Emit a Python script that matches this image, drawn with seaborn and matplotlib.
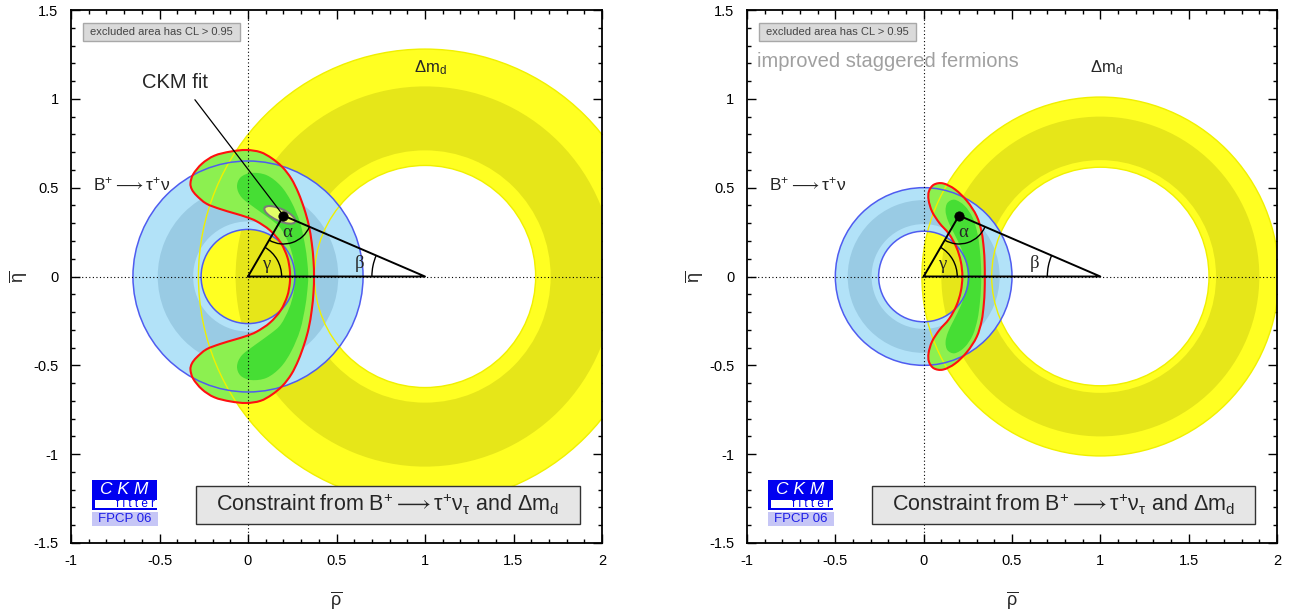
import numpy as np
import matplotlib
matplotlib.use("Agg")
import matplotlib.pyplot as plt
import seaborn as sns
from matplotlib.patches import Wedge, Circle, Arc, Ellipse, Rectangle, PathPatch
from matplotlib.path import Path
from matplotlib.ticker import FixedLocator, FixedFormatter, MultipleLocator

# ------------------------------------------------------------------ data
x_ticks = [-1, -0.5, 0, 0.5, 1, 1.5, 2]
x_tick_labels = ["-1", "-0.5", "0", "0.5", "1", "1.5", "2"]
y_ticks = [-1.5, -1, -0.5, 0, 0.5, 1, 1.5]
y_tick_labels = ["-1.5", "-1", "-0.5", "0", "0.5", "1", "1.5"]

apex = (0.200, 0.343)                 # CKM fit point (rho, eta)
dmd_center = (1.0, 0.0)
btau_center = (0.0, 0.0)
# ring radii: inner edge, dark band inner, dark band outer, outer edge
dmd_radii_left = [0.625, 0.71, 1.07, 1.28]
dmd_radii_right = [0.615, 0.655, 0.90, 1.01]
btau_radii_left = [0.265, 0.31, 0.51, 0.65]
btau_radii_right = [0.255, 0.295, 0.43, 0.50]

# combined constraint, upper half (eta >= 0)
red_left_rho = [0.237, 0.236, 0.222, 0.185, 0.124, 0.050, -0.010, -0.075, -0.158, -0.235,
                -0.290, -0.317, -0.325, -0.310, -0.260, -0.190, -0.100, -0.010, 0.070, 0.135,
                0.195, 0.245, 0.285, 0.318, 0.343, 0.360, 0.370, 0.373]
red_left_eta = [0.000, 0.040, 0.110, 0.190, 0.260, 0.310, 0.335, 0.355, 0.380, 0.410,
                0.455, 0.490, 0.525, 0.575, 0.635, 0.680, 0.703, 0.712, 0.700, 0.665,
                0.615, 0.550, 0.470, 0.380, 0.290, 0.190, 0.090, 0.000]
dark_left_rho = [0.265, 0.258, 0.232, 0.185, 0.130, 0.040, -0.036, -0.062, -0.042, 0.020,
                 0.106, 0.185, 0.245, 0.295, 0.325, 0.338, 0.340]
dark_left_eta = [0.000, 0.090, 0.180, 0.270, 0.320, 0.385, 0.445, 0.505, 0.558, 0.583,
                 0.570, 0.510, 0.420, 0.300, 0.160, 0.050, 0.000]
red_right_rho = [0.219, 0.210, 0.185, 0.143, 0.090, 0.048, 0.028, 0.030, 0.058, 0.110,
                 0.178, 0.245, 0.300, 0.328, 0.340, 0.345, 0.346]
red_right_eta = [0.000, 0.085, 0.165, 0.240, 0.300, 0.365, 0.430, 0.480, 0.517, 0.524,
                 0.490, 0.425, 0.340, 0.250, 0.160, 0.080, 0.000]
dark_right_rho = [0.248, 0.238, 0.212, 0.168, 0.137, 0.124, 0.135, 0.176, 0.232, 0.278,
                  0.305, 0.318, 0.324, 0.326]
dark_right_eta = [0.000, 0.080, 0.160, 0.250, 0.315, 0.370, 0.415, 0.432, 0.398, 0.330,
                  0.240, 0.150, 0.070, 0.000]

fit_ellipse = dict(center=(0.180, 0.347), width=0.19, height=0.068, angle=-24)

# ------------------------------------------------------------------ style
sns.set_style("ticks")
plt.rcParams["font.family"] = ["Liberation Sans", "DejaVu Sans"]
plt.rcParams["mathtext.fontset"] = "custom"
plt.rcParams["mathtext.rm"] = "Liberation Sans"
plt.rcParams["mathtext.it"] = "Liberation Sans:italic"
plt.rcParams["mathtext.bf"] = "Liberation Sans:bold"
plt.rcParams["mathtext.default"] = "regular"

C_YEL = "#FFFF22"
C_YEL_D = "#E6E619"
C_BLU = "#B2E2F8"
C_BLU_D = "#99CBE4"
C_BLU_LINE = "#4F5CF0"
C_GRN = "#8CF050"
C_GRN_D = "#46DE34"
C_RED = "#FF1010"


def mirror(rho, eta):
    r = list(rho) + list(rho[-2:0:-1])
    e = list(eta) + [-v for v in eta[-2:0:-1]]
    return np.array(r), np.array(e)


def smooth_closed_path(x, y):
    pts = np.column_stack([x, y])
    n = len(pts)
    verts = [pts[0]]
    codes = [Path.MOVETO]
    for i in range(n):
        p0, p1, p2, p3 = pts[i - 1], pts[i], pts[(i + 1) % n], pts[(i + 2) % n]
        c1 = p1 + (p2 - p0) / 6.0
        c2 = p2 - (p3 - p1) / 6.0
        verts += [c1, c2, p2]
        codes += [Path.CURVE4] * 3
    return Path(verts, codes)


def ring(ax, center, r_in, r_out, color, z):
    ax.add_patch(Wedge(center, r_out, 0, 360, width=r_out - r_in, facecolor=color,
                       edgecolor="none", zorder=z))


def panel(ax, dmd_r, btau_r, red, dark, show_fit, extra_text=None):
    # Delta m_d rings
    ring(ax, dmd_center, dmd_r[0], dmd_r[3], C_YEL, 1)
    ring(ax, dmd_center, dmd_r[1], dmd_r[2], C_YEL_D, 1.1)
    # B -> tau nu rings
    ring(ax, btau_center, btau_r[0], btau_r[3], C_BLU, 2)
    ring(ax, btau_center, btau_r[1], btau_r[2], C_BLU_D, 2.1)
    # combined constraint
    rx, ry = mirror(*red)
    dx, dy = mirror(*dark)
    ax.add_patch(PathPatch(smooth_closed_path(rx, ry), facecolor=C_GRN, edgecolor="none", zorder=3))
    ax.add_patch(PathPatch(smooth_closed_path(dx, dy), facecolor=C_GRN_D, edgecolor="none", zorder=3.1))
    # outlines
    for r in (dmd_r[0], dmd_r[3]):
        ax.add_patch(Circle(dmd_center, r, fill=False, edgecolor="#F0F000", lw=1.0, zorder=4))
    for r in (btau_r[0], btau_r[3]):
        ax.add_patch(Circle(btau_center, r, fill=False, edgecolor=C_BLU_LINE, lw=1.1, zorder=4.1))
    ax.add_patch(PathPatch(smooth_closed_path(rx, ry), facecolor="none", edgecolor=C_RED, lw=1.5, zorder=4.2))
    if show_fit:
        ax.add_patch(Ellipse(fit_ellipse["center"], fit_ellipse["width"], fit_ellipse["height"],
                             angle=fit_ellipse["angle"], facecolor="#E2FF66", edgecolor="#7A7A7A",
                             lw=1.5, zorder=4.3))
    # dotted axes
    ax.axhline(0, color="black", lw=0.8, ls=(0, (1, 2.2)), zorder=5)
    ax.axvline(0, color="black", lw=0.8, ls=(0, (1, 2.2)), zorder=5)
    # unitarity triangle
    tri_rho = [0.0, apex[0], 1.0, 0.0]
    tri_eta = [0.0, apex[1], 0.0, 0.0]
    sns.lineplot(x=tri_rho, y=tri_eta, sort=False, estimator=None, color="black", lw=1.4,
                 ax=ax, zorder=6)
    sns.scatterplot(x=[apex[0]], y=[apex[1]], s=45, color="black", edgecolor="black", ax=ax, zorder=7)
    ang_apex = np.degrees(np.arctan2(apex[1], apex[0]))
    ang_beta = np.degrees(np.arctan2(apex[1], 1.0 - apex[0]))
    ax.add_patch(Arc((0, 0), 0.38, 0.38, theta1=0, theta2=ang_apex, lw=1.0,
                     edgecolor="black", zorder=6))
    ax.add_patch(Arc(apex, 0.32, 0.32, theta1=180 + ang_apex, theta2=360 - ang_beta, lw=1.0,
                     edgecolor="black", zorder=6))
    ax.add_patch(Arc((1, 0), 0.60, 0.60, theta1=180 - ang_beta, theta2=180, lw=1.0,
                     edgecolor="black", zorder=6))
    gfont = dict(family=["Liberation Serif", "DejaVu Serif"], fontsize=13.5, ha="center", va="center", zorder=8)
    ax.text(0.105, 0.066, "γ", **gfont)
    ax.text(0.222, 0.248, "α", **gfont)
    ax.text(0.630, 0.072, "β", **gfont)

    # labels
    ax.text(-0.878, 0.52, r"B$^{+}\longrightarrow\tau^{+}\nu$", fontsize=12.5, ha="left", va="center", zorder=8)
    ax.text(0.94, 1.175, r"$\Delta$m$_{\rm d}$", fontsize=12, ha="left", va="center", zorder=8)

    # excluded area box
    ax.add_patch(Rectangle((0.0226, 0.942), 0.296, 0.034, transform=ax.transAxes, facecolor="#DADADA",
                           edgecolor="#A8A8A8", lw=1.0, zorder=8))
    ax.text(0.170, 0.959, "excluded area has CL > 0.95", transform=ax.transAxes, fontsize=8,
            color="#444444", ha="center", va="center", zorder=9)
    # title box
    ax.add_patch(Rectangle((0.235, 0.036), 0.724, 0.071, transform=ax.transAxes, facecolor="#E6E6E6",
                           edgecolor="#333333", lw=1.0, zorder=8))
    ax.text(0.597, 0.0715, r"Constraint from B$^{+}\longrightarrow\tau^{+}\nu_{\tau}$ and $\Delta$m$_{\rm d}$",
            transform=ax.transAxes, fontsize=15.5, ha="center", va="center", zorder=9)
    # CKMfitter logo
    ax.add_patch(Rectangle((0.0395, 0.0807), 0.1225, 0.0373, transform=ax.transAxes,
                           facecolor="#0000F0", edgecolor="none", zorder=8))
    ax.text(0.1005, 0.0995, "C K M", transform=ax.transAxes, fontsize=12.5, style="italic",
            color="white", ha="center", va="center", zorder=9)
    ax.add_patch(Rectangle((0.0395, 0.0619), 0.1225, 0.0188, transform=ax.transAxes,
                           facecolor="white", edgecolor="none", zorder=8))
    ax.add_patch(Rectangle((0.0395, 0.0619), 0.006, 0.0188, transform=ax.transAxes,
                           facecolor="#0000F0", edgecolor="none", zorder=8.5))
    ax.add_patch(Rectangle((0.0395, 0.0619), 0.1225, 0.0035, transform=ax.transAxes,
                           facecolor="#0000F0", edgecolor="none", zorder=8.5))
    ax.text(0.159, 0.0728, "f i t t e r", transform=ax.transAxes, fontsize=8.5, color="#0000F0",
            ha="right", va="center", zorder=9)
    ax.add_patch(Rectangle((0.0395, 0.0319), 0.1245, 0.026, transform=ax.transAxes,
                           facecolor="#C6C6F6", edgecolor="none", zorder=8))
    ax.text(0.1005, 0.045, "FPCP 06", transform=ax.transAxes, fontsize=9.5, color="#1E1EE6",
            ha="center", va="center", zorder=9)

    if show_fit:
        ax.plot([-0.30, apex[0]], [0.995, apex[1]], color="black", lw=0.9, zorder=6)
        ax.text(-0.41, 1.09, "CKM fit", fontsize=14.5, ha="center", va="center", zorder=8)
    if extra_text:
        ax.text(-0.945, 1.21, extra_text, fontsize=14.5, color="#A0A0A0", ha="left", va="center", zorder=8)

    # axes
    ax.set_xlim(-1, 2)
    ax.set_ylim(-1.5, 1.5)
    ax.xaxis.set_major_locator(FixedLocator(x_ticks))
    ax.xaxis.set_major_formatter(FixedFormatter(x_tick_labels))
    ax.yaxis.set_major_locator(FixedLocator(y_ticks))
    ax.yaxis.set_major_formatter(FixedFormatter(y_tick_labels))
    ax.xaxis.set_minor_locator(MultipleLocator(0.1))
    ax.yaxis.set_minor_locator(MultipleLocator(0.1))
    ax.tick_params(which="both", direction="in", top=True, right=True, width=1.0, colors="black",
                   labelsize=10.5)
    ax.tick_params(which="major", length=6.5)
    ax.tick_params(which="minor", length=3.2)
    ax.tick_params(axis="y", pad=9)
    ax.tick_params(axis="x", pad=8)
    for s in ax.spines.values():
        s.set_visible(True)
        s.set_linewidth(1.3)
        s.set_color("black")
        s.set_zorder(10)
    ax.set_xlabel("")
    ax.set_ylabel("")
    ax.text(0.5, -0.107, r"$\overline{\rho}$", transform=ax.transAxes, fontsize=13, ha="center", va="center")
    ax.text(-0.100, 0.5, r"$\overline{\eta}$", transform=ax.transAxes, fontsize=13, ha="center",
            va="center", rotation=90)


fig = plt.figure(figsize=(12.96, 6.14), dpi=100)
ax1 = fig.add_axes([71 / 1296, 71 / 614, 531 / 1296, 533 / 614])
ax2 = fig.add_axes([747 / 1296, 71 / 614, 530 / 1296, 533 / 614])
for a in (ax1, ax2):
    a.set_facecolor("white")

panel(ax1, dmd_radii_left, btau_radii_left, (red_left_rho, red_left_eta),
      (dark_left_rho, dark_left_eta), show_fit=True)
panel(ax2, dmd_radii_right, btau_radii_right, (red_right_rho, red_right_eta),
      (dark_right_rho, dark_right_eta), show_fit=False, extra_text="improved staggered fermions")

fig.savefig("out.png", dpi=100, facecolor="white")
